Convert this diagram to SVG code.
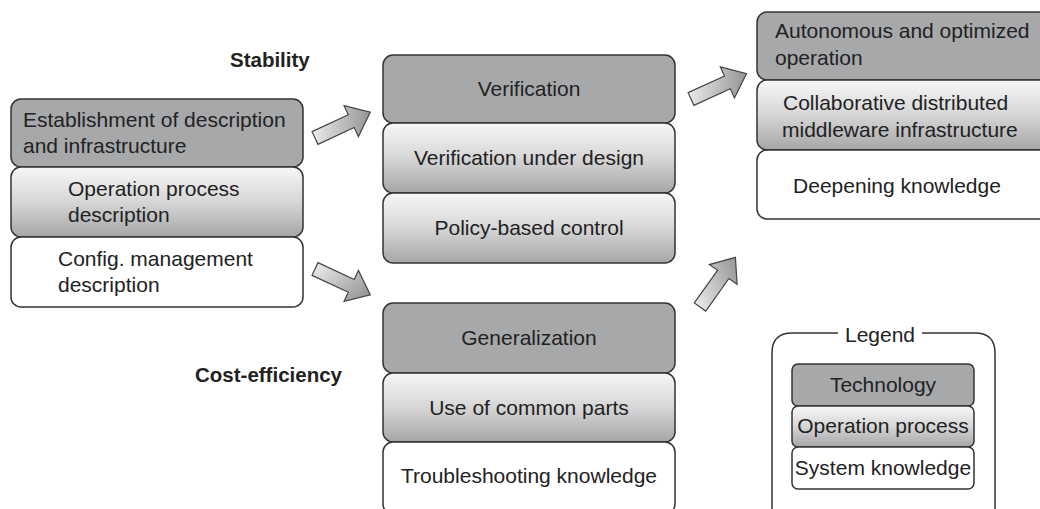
<svg xmlns="http://www.w3.org/2000/svg" width="1040" height="509" viewBox="0 0 1040 509">
<defs>
<linearGradient id="procGrad" x1="0" y1="0" x2="0" y2="1">
<stop offset="0" stop-color="#f7f7f7"/>
<stop offset="0.5" stop-color="#d6d6d7"/>
<stop offset="1" stop-color="#a6a6a8"/>
</linearGradient>
<linearGradient id="arrowGrad" x1="0" y1="0" x2="1" y2="0.3">
<stop offset="0" stop-color="#f2f2f2"/>
<stop offset="1" stop-color="#9a9a9c"/>
</linearGradient>
<path id="blockArrow" d="M0,-7 L40,-7 L40,-17 L61,0 L40,17 L40,7 L0,7 Z"/>
</defs>
<style>
.tech{fill:#a7a8aa;stroke:#333;stroke-width:1.5}
.proc{fill:url(#procGrad);stroke:#333;stroke-width:1.5}
.know{fill:#fff;stroke:#333;stroke-width:1.5}
.t{font-family:"Liberation Sans",Arial,sans-serif;font-size:21px;fill:#222}
.c{text-anchor:middle}
.b{font-family:"Liberation Sans",Arial,sans-serif;font-size:20.5px;font-weight:bold;fill:#222}
.arr{fill:url(#arrowGrad);stroke:#444;stroke-width:1.2}
</style>
<rect width="1040" height="509" fill="#fff"/>

<g id="labels">
<text class="b" x="230" y="67">Stability</text>
<text class="b" x="195" y="382">Cost-efficiency</text>
</g>

<g id="left-stack">
<rect class="tech" x="11" y="99" width="292" height="68" rx="10"/>
<text class="t" x="23" y="127">Establishment of description</text>
<text class="t" x="23" y="153">and infrastructure</text>
<rect class="proc" x="11" y="167" width="292" height="70" rx="10"/>
<text class="t" x="68" y="196">Operation process</text>
<text class="t" x="68" y="222">description</text>
<rect class="know" x="11" y="237" width="292" height="70" rx="10"/>
<text class="t" x="58" y="266">Config. management</text>
<text class="t" x="58" y="292">description</text>
</g>

<g id="stability-stack">
<rect class="tech" x="383" y="55" width="292" height="68" rx="10"/>
<text class="t c" x="529" y="96">Verification</text>
<rect class="proc" x="383" y="123" width="292" height="70" rx="10"/>
<text class="t c" x="529" y="165">Verification under design</text>
<rect class="proc" x="383" y="193" width="292" height="70" rx="10"/>
<text class="t c" x="529" y="235">Policy-based control</text>
</g>

<g id="cost-stack">
<rect class="tech" x="383" y="303" width="292" height="70" rx="10"/>
<text class="t c" x="529" y="345">Generalization</text>
<rect class="proc" x="383" y="373" width="292" height="69" rx="10"/>
<text class="t c" x="529" y="415">Use of common parts</text>
<rect class="know" x="383" y="442" width="292" height="72" rx="10"/>
<text class="t c" x="529" y="483">Troubleshooting knowledge</text>
</g>

<g id="right-stack">
<rect class="tech" x="757" y="12" width="292" height="68" rx="10"/>
<text class="t" x="775" y="38">Autonomous and optimized</text>
<text class="t" x="775" y="65">operation</text>
<rect class="proc" x="757" y="80" width="292" height="70" rx="10"/>
<text class="t" x="783" y="110">Collaborative distributed</text>
<text class="t" x="782" y="137">middleware infrastructure</text>
<rect class="know" x="757" y="150" width="292" height="69" rx="10"/>
<text class="t c" x="897" y="193">Deepening knowledge</text>
</g>

<g id="legend">
<path d="M838,333 L792,333 Q772,333 772,353 L772,520 M922,333 L975,333 Q995,333 995,353 L995,520" fill="none" stroke="#333" stroke-width="1.5"/>
<text class="t c" x="880" y="342">Legend</text>
<rect class="tech" x="792" y="364" width="182" height="42" rx="6"/>
<text class="t c" x="883" y="392">Technology</text>
<rect class="proc" x="792" y="406" width="182" height="41" rx="6"/>
<text class="t c" x="883" y="433">Operation process</text>
<rect class="know" x="792" y="447" width="182" height="42" rx="6"/>
<text class="t c" x="883" y="475">System knowledge</text>
</g>

<g id="connectors">
<use href="#blockArrow" class="arr" transform="translate(315,138) rotate(-25)"/>
<use href="#blockArrow" class="arr" transform="translate(315,269) rotate(25)"/>
<use href="#blockArrow" class="arr" transform="translate(691,99) rotate(-24.5)"/>
<use href="#blockArrow" class="arr" transform="translate(700,307) rotate(-54.5)"/>
</g>
</svg>
